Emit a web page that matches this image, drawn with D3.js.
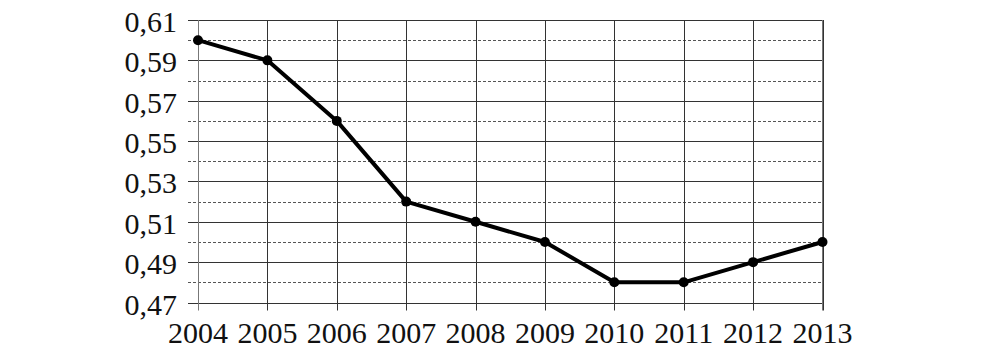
<!DOCTYPE html>
<html>
<head>
<meta charset="utf-8">
<script src="https://cdn.jsdelivr.net/npm/d3@7"></script>
<style>
  html, body { margin: 0; padding: 0; background: #fff; }
  svg { display: block; }
  text { font-family: "Liberation Serif", "DejaVu Serif", serif; font-size: 30px; fill: #111; }
</style>
</head>
<body>
<svg id="chart" width="1002" height="352"></svg>
<script>
var years = ["2004", "2005", "2006", "2007", "2008", "2009", "2010", "2011", "2012", "2013"];
var values = [0.60, 0.59, 0.56, 0.52, 0.51, 0.50, 0.48, 0.48, 0.49, 0.50];
var majorTicks = [0.47, 0.49, 0.51, 0.53, 0.55, 0.57, 0.59, 0.61];
var minorTicks = [0.48, 0.50, 0.52, 0.54, 0.56, 0.58, 0.60];

var svg = d3.select("#chart");
var plotL = 198, plotR = 822.5, plotT = 20, plotB = 302.5;

var x = d3.scalePoint().domain(years).range([plotL, plotR]);
var y = d3.scaleLinear().domain([0.47, 0.61]).range([plotB, plotT]);

var fmt = function (d) { return d3.format(".2f")(d).replace(".", ","); };

// dashed lines at even hundredths
svg.append("g").selectAll("line")
  .data(minorTicks)
  .enter().append("line")
    .attr("x1", plotL - 10).attr("x2", plotR)
    .attr("y1", function (d) { return Math.round(y(d)) + 0.5; })
    .attr("y2", function (d) { return Math.round(y(d)) + 0.5; })
    .attr("stroke", "#555")
    .attr("stroke-width", 1)
    .attr("stroke-dasharray", "3,2");

// solid horizontal lines
svg.append("g").selectAll("line")
  .data(majorTicks)
  .enter().append("line")
    .attr("x1", plotL - 10).attr("x2", plotR)
    .attr("y1", function (d) { return Math.round(y(d)) + 0.5; })
    .attr("y2", function (d) { return Math.round(y(d)) + 0.5; })
    .attr("stroke", "#333")
    .attr("stroke-width", 1);

// vertical lines
svg.append("g").selectAll("line")
  .data(years)
  .enter().append("line")
    .attr("x1", function (d) { return Math.round(x(d)) + 0.5; })
    .attr("x2", function (d) { return Math.round(x(d)) + 0.5; })
    .attr("y1", plotT).attr("y2", plotB + 8)
    .attr("stroke", function (d, i) { return i === 0 ? "#777" : "#333"; })
    .attr("stroke-width", 1);

// right border
svg.append("line")
  .attr("x1", plotR).attr("x2", plotR)
  .attr("y1", plotT).attr("y2", plotB + 8)
  .attr("stroke", "#777").attr("stroke-width", 1);

// y labels
svg.append("g").selectAll("text")
  .data(majorTicks)
  .enter().append("text")
    .attr("x", plotL - 21)
    .attr("y", function (d) { return y(d) + 12; })
    .attr("text-anchor", "end")
    .text(fmt);

// x labels
svg.append("g").selectAll("text")
  .data(years)
  .enter().append("text")
    .attr("x", function (d) { return x(d); })
    .attr("y", 343)
    .attr("text-anchor", "middle")
    .text(function (d) { return d; });

var line = d3.line()
  .x(function (d, i) { return x(years[i]); })
  .y(function (d) { return y(d); });

svg.append("path")
  .datum(values)
  .attr("fill", "none")
  .attr("stroke", "#000")
  .attr("stroke-width", 4)
  .attr("stroke-linejoin", "round")
  .attr("d", line);

svg.append("g").selectAll("circle")
  .data(values)
  .enter().append("circle")
    .attr("cx", function (d, i) { return x(years[i]); })
    .attr("cy", function (d) { return y(d); })
    .attr("r", 5)
    .attr("fill", "#000");
</script>
</body>
</html>
